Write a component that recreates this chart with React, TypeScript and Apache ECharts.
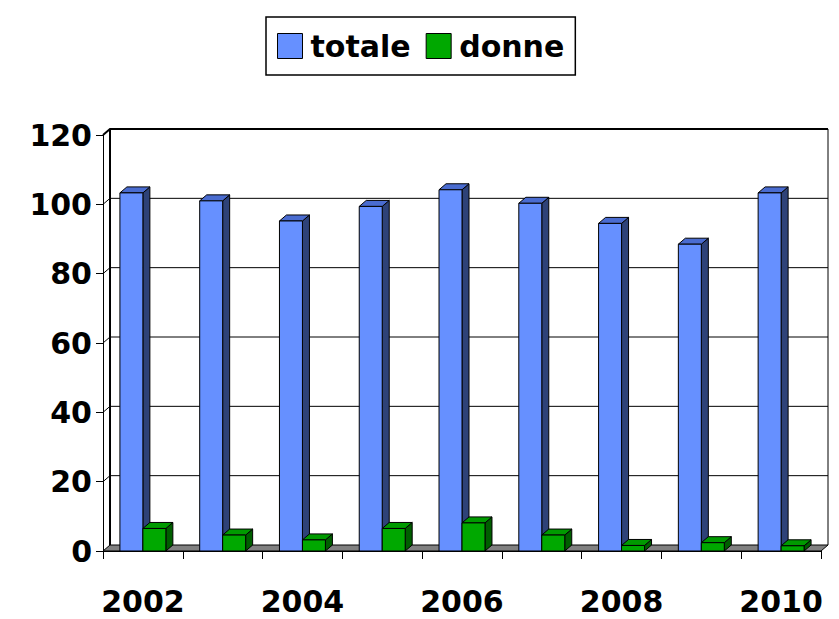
import React, { useEffect, useRef } from "react";
import * as echarts from "echarts";

const years = ["2002", "2003", "2004", "2005", "2006", "2007", "2008", "2009", "2010"];
const totale = [103.3, 101, 95.2, 99.4, 104.2, 100.3, 94.5, 88.5, 103.3];
const donne = [6.5, 4.6, 3.2, 6.5, 8.1, 4.6, 1.6, 2.4, 1.5];
const yTicks = [0, 20, 40, 60, 80, 100, 120];

const FONT = "'DejaVu Sans', sans-serif";
const DX = 7;
const DY = -6;
const WALL_DX = 7;
const WALL_DY = -6;

const colors = {
  totale: { front: "#6690FF", side: "#2E4278", top: "#4A6CD0" },
  donne: { front: "#00A800", side: "#005E00", top: "#009A00" },
};

function barRender(kind: "totale" | "donne") {
  return (params: any, api: any) => {
    const idx = api.value(0);
    const v = api.value(1);
    const base = api.coord([idx, 0]);
    const top = api.coord([idx, v]);
    const band = api.size([1, 0])[0];
    const w = band * 0.288;
    const x0 = kind === "totale" ? base[0] - w : base[0];
    const x1 = x0 + w;
    const c = colors[kind];
    const stroke = { stroke: "#000", lineWidth: 1 };
    return {
      type: "group",
      children: [
        {
          type: "polygon",
          shape: {
            points: [
              [x1, top[1]],
              [x1 + DX, top[1] + DY],
              [x1 + DX, base[1] + DY],
              [x1, base[1]],
            ],
          },
          style: { fill: c.side, ...stroke },
        },
        {
          type: "polygon",
          shape: {
            points: [
              [x0, top[1]],
              [x0 + DX, top[1] + DY],
              [x1 + DX, top[1] + DY],
              [x1, top[1]],
            ],
          },
          style: { fill: c.top, ...stroke },
        },
        {
          type: "rect",
          shape: { x: x0, y: top[1], width: w, height: base[1] - top[1] },
          style: { fill: c.front, ...stroke },
        },
      ],
    };
  };
}

function frameRender(params: any, api: any) {
  const v = api.value(1);
  const cs = params.coordSys;
  const xl = cs.x;
  const xr = cs.x + cs.width;
  const y = api.coord([0, v])[1];
  const y0 = api.coord([0, 0])[1];
  const yTop = api.coord([0, 120])[1];
  const children: any[] = [];
  if (v === 0) {
    children.push({
      type: "polygon",
      shape: {
        points: [
          [xl, y0],
          [xl + WALL_DX, y0 + WALL_DY],
          [xr + WALL_DX, y0 + WALL_DY],
          [xr, y0],
        ],
      },
      style: { fill: "#808080", stroke: "#000", lineWidth: 1 },
    });
    children.push({
      type: "line",
      shape: { x1: xl + WALL_DX, y1: y0 + WALL_DY, x2: xl + WALL_DX, y2: yTop + WALL_DY },
      style: { stroke: "#000", lineWidth: 2 },
    });
    children.push({
      type: "line",
      shape: { x1: xr + WALL_DX, y1: y0 + WALL_DY, x2: xr + WALL_DX, y2: yTop + WALL_DY },
      style: { stroke: "#000", lineWidth: 1 },
    });
  } else {
    children.push({
      type: "polyline",
      shape: {
        points: [
          [xl, y],
          [xl + WALL_DX, y + WALL_DY],
          [xr + WALL_DX, y + WALL_DY],
        ],
      },
      style: { stroke: "#000", lineWidth: v === 120 ? 2 : 1, fill: "none" },
    });
  }
  return { type: "group", children };
}

export default function App() {
  const ref = useRef<HTMLDivElement>(null);
  useEffect(() => {
    if (!ref.current) return;
    const chart = echarts.init(ref.current, null, { renderer: "svg" });
    chart.setOption({
      animation: false,
      backgroundColor: "#fff",
      legend: {
        left: 266,
        top: 17,
        padding: [14, 11, 14, 11],
        itemWidth: 25,
        itemHeight: 25,
        itemGap: 15,
        borderColor: "#000",
        borderWidth: 1.5,
        icon: "rect",
        textStyle: { fontFamily: FONT, fontSize: 30, fontWeight: "bold", color: "#000", padding: [0, 0, 0, 3] },
        data: [
          { name: "totale", itemStyle: { color: colors.totale.front, borderColor: "#000", borderWidth: 1 } },
          { name: "donne", itemStyle: { color: colors.donne.front, borderColor: "#000", borderWidth: 1 } },
        ],
      },
      grid: { left: 103, right: 18, top: 135, bottom: 68, containLabel: false },
      xAxis: {
        type: "category",
        data: years,
        boundaryGap: true,
        axisLine: { show: true, lineStyle: { color: "#000", width: 1 } },
        axisTick: { show: true, interval: 0, length: 8, lineStyle: { color: "#000" } },
        axisLabel: {
          interval: 1,
          margin: 35,
          fontFamily: FONT,
          fontSize: 30,
          fontWeight: "bold",
          color: "#000",
        },
        splitLine: { show: false },
      },
      yAxis: {
        type: "value",
        min: 0,
        max: 120,
        interval: 20,
        axisLine: { show: true, lineStyle: { color: "#000", width: 1 } },
        axisTick: { show: true, length: 7, lineStyle: { color: "#000" } },
        axisLabel: {
          margin: 11,
          fontFamily: FONT,
          fontSize: 30,
          fontWeight: "bold",
          color: "#000",
        },
        splitLine: { show: false },
      },
      series: [
        {
          type: "custom",
          name: "frame",
          z: 1,
          silent: true,
          renderItem: frameRender,
          data: yTicks.map((t) => [0, t]),
          encode: { x: 0, y: 1 },
        },
        {
          type: "custom",
          name: "totale",
          z: 3,
          itemStyle: { color: colors.totale.front },
          renderItem: barRender("totale"),
          data: totale.map((v, i) => [i, v]),
          encode: { x: 0, y: 1 },
        },
        {
          type: "custom",
          name: "donne",
          z: 4,
          itemStyle: { color: colors.donne.front },
          renderItem: barRender("donne"),
          data: donne.map((v, i) => [i, v]),
          encode: { x: 0, y: 1 },
        },
      ],
    });
    return () => chart.dispose();
  }, []);
  return (
    <div
      ref={ref}
      style={{ position: "absolute", left: 0, top: 0, width: 839, height: 619 }}
    />
  );
}
